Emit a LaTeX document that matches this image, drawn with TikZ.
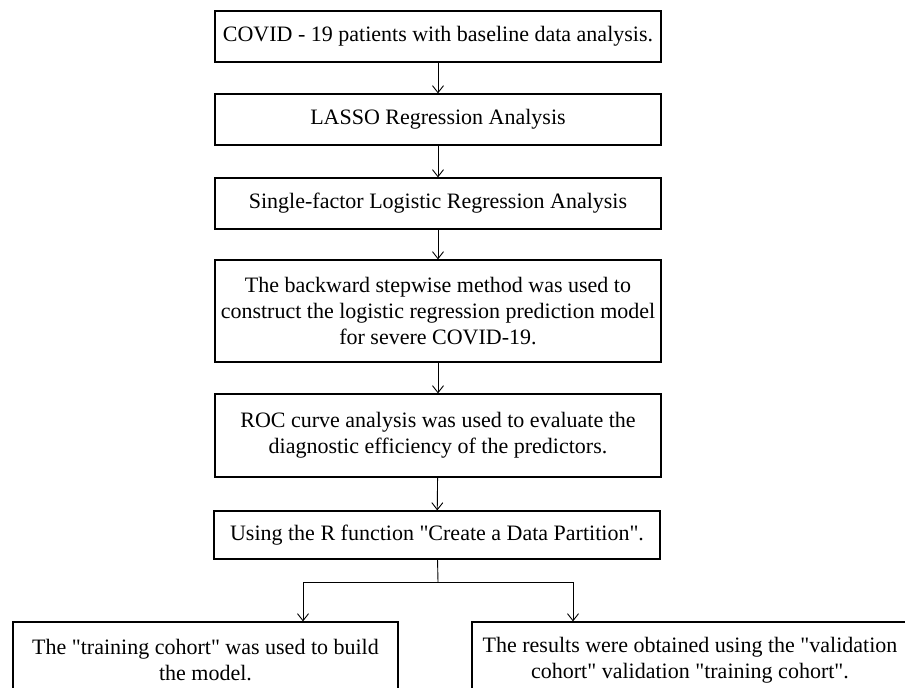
\documentclass[tikz,border=0pt]{standalone}
\usepackage{fontspec}
\newfontfamily\boxfont{Liberation Serif}
\usetikzlibrary{arrows.meta}
\begin{document}
\begin{tikzpicture}[x=1pt,y=-1pt,
    box/.style={draw,line width=1.2pt,align=center,inner sep=2pt,
      minimum width=446pt,font=\boxfont\fontsize{22}{26}\selectfont},
    link/.style={line width=0.9pt},
    arr/.style={link,-{Straight Barb[length=7pt,width=11pt]}}]
  \useasboundingbox (0,0) rectangle (905,688);
  \clip (0,0) rectangle (905,688);
  \draw
    (438,36.5) node[box,minimum height=51pt] (data)
      {COVID - 19 patients with baseline data analysis.}
    (438,119.5) node[box,minimum height=51pt] (lasso)
      {LASSO Regression Analysis}
    (438,203.5) node[box,minimum height=51pt] (single)
      {Single-factor Logistic Regression Analysis}
    (438,311) node[box,minimum height=102pt] (model)
      {The backward stepwise method was used to\\
       construct the logistic regression prediction model\\
       for severe COVID-19.}
    (438,435.5) node[box,minimum height=83pt] (roc)
      {ROC curve analysis was used to evaluate the\\
       diagnostic efficiency of the predictors.}
    (437,535) node[box,minimum height=48pt] (part)
      {Using the R function "Create a Data Partition".}
    (205.5,660) node[box,minimum width=385pt,minimum height=76pt] (train)
      {The "training cohort" was used to build\\ the model.}
    (690,660) node[box,minimum width=436pt,minimum height=76pt] (valid)
      {The results were obtained using the "validation\\
       cohort" validation "training cohort".};
  \coordinate (split) at (438,582);
  \coordinate (lt) at (303,582);
  \coordinate (rt) at (573,582);
  \begin{scope}[arr]
    \draw (data) to (lasso);
    \draw (lasso) to (single);
    \draw (single) to (model);
    \draw (model) to (roc);
    \draw (roc) to (part);
    \draw (lt) to (lt |- train.north);
    \draw (rt) to (rt |- valid.north);
  \end{scope}
  \draw[link] (part) -- (split);
  \draw[link] (lt) -- (rt);
\end{tikzpicture}
\end{document}
